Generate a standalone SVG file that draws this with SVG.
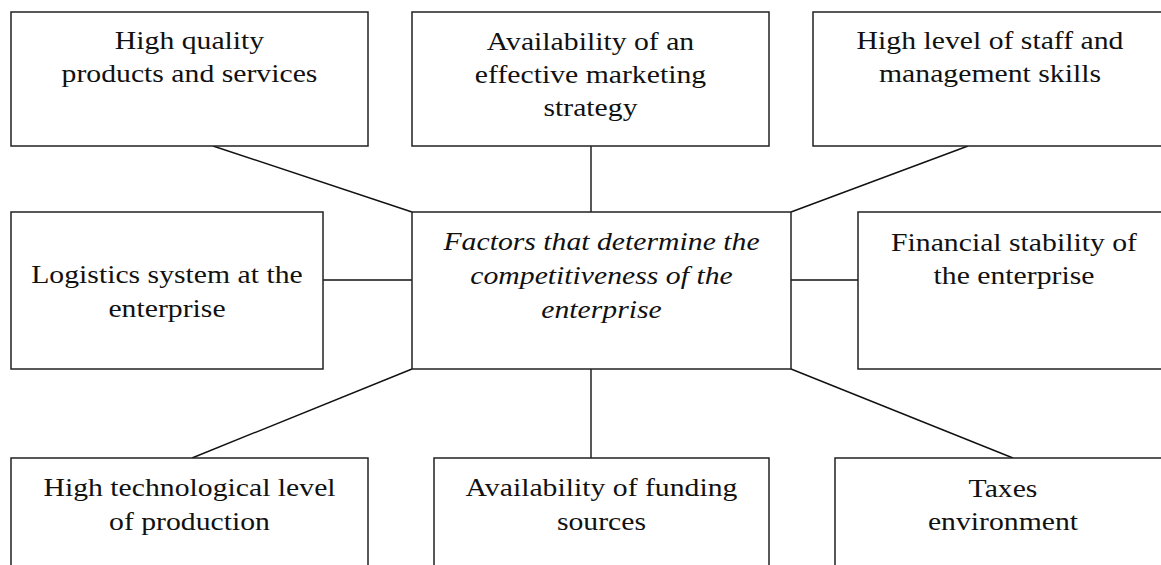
<svg xmlns="http://www.w3.org/2000/svg" width="1161" height="565" viewBox="0 0 1161 565">
<style>
.box{fill:#fff;stroke:#222;stroke-width:1.5}
.ln{stroke:#111;stroke-width:1.4;fill:none}
text{font-family:"Liberation Serif","Times New Roman",serif;font-size:25.5px;fill:#111;text-anchor:middle}
.it{font-style:italic}
</style>
<rect width="1161" height="565" fill="#fff"/>
<g id="connectors">
<line class="ln" x1="213" y1="146" x2="412" y2="212"/>
<line class="ln" x1="591" y1="146" x2="591" y2="212"/>
<line class="ln" x1="968" y1="146" x2="791" y2="212"/>
<line class="ln" x1="323" y1="280" x2="412" y2="280"/>
<line class="ln" x1="791" y1="280" x2="858" y2="280"/>
<line class="ln" x1="412" y1="369" x2="192" y2="458"/>
<line class="ln" x1="591" y1="369" x2="591" y2="458"/>
<line class="ln" x1="791" y1="369" x2="1013" y2="458"/>
</g>
<g id="n1"><rect class="box" x="11" y="12" width="357" height="134"/>
<text transform="translate(189.5,49) scale(1.166,1)">High quality</text><text transform="translate(189.5,82) scale(1.166,1)">products and services</text></g>
<g id="n2"><rect class="box" x="412" y="12" width="357" height="134"/>
<text transform="translate(590.5,50) scale(1.166,1)">Availability of an</text><text transform="translate(590.5,83) scale(1.166,1)">effective marketing</text><text transform="translate(590.5,116) scale(1.166,1)">strategy</text></g>
<g id="n3"><rect class="box" x="813" y="12" width="357" height="134"/>
<text transform="translate(990,49) scale(1.166,1)">High level of staff and</text><text transform="translate(990,82) scale(1.166,1)">management skills</text></g>
<g id="n4"><rect class="box" x="11" y="212" width="312" height="157"/>
<text transform="translate(167,283) scale(1.166,1)">Logistics system at the</text><text transform="translate(167,317) scale(1.166,1)">enterprise</text></g>
<g id="center"><rect class="box" x="412" y="212" width="379" height="157"/>
<text class="it" transform="translate(601.5,250) scale(1.166,1)">Factors that determine the</text><text class="it" transform="translate(601.5,284) scale(1.166,1)">competitiveness of the</text><text class="it" transform="translate(601.5,318) scale(1.166,1)">enterprise</text></g>
<g id="n5"><rect class="box" x="858" y="212" width="312" height="157"/>
<text transform="translate(1014,251) scale(1.166,1)">Financial stability of</text><text transform="translate(1014,284) scale(1.166,1)">the enterprise</text></g>
<g id="n6"><rect class="box" x="11" y="458" width="357" height="130"/>
<text transform="translate(189.5,496) scale(1.166,1)">High technological level</text><text transform="translate(189.5,530) scale(1.166,1)">of production</text></g>
<g id="n7"><rect class="box" x="434" y="458" width="335" height="130"/>
<text transform="translate(601.5,496) scale(1.166,1)">Availability of funding</text><text transform="translate(601.5,530) scale(1.166,1)">sources</text></g>
<g id="n8"><rect class="box" x="835" y="458" width="336" height="130"/>
<text transform="translate(1003,497) scale(1.166,1)">Taxes</text><text transform="translate(1003,530) scale(1.166,1)">environment</text></g>
</svg>
